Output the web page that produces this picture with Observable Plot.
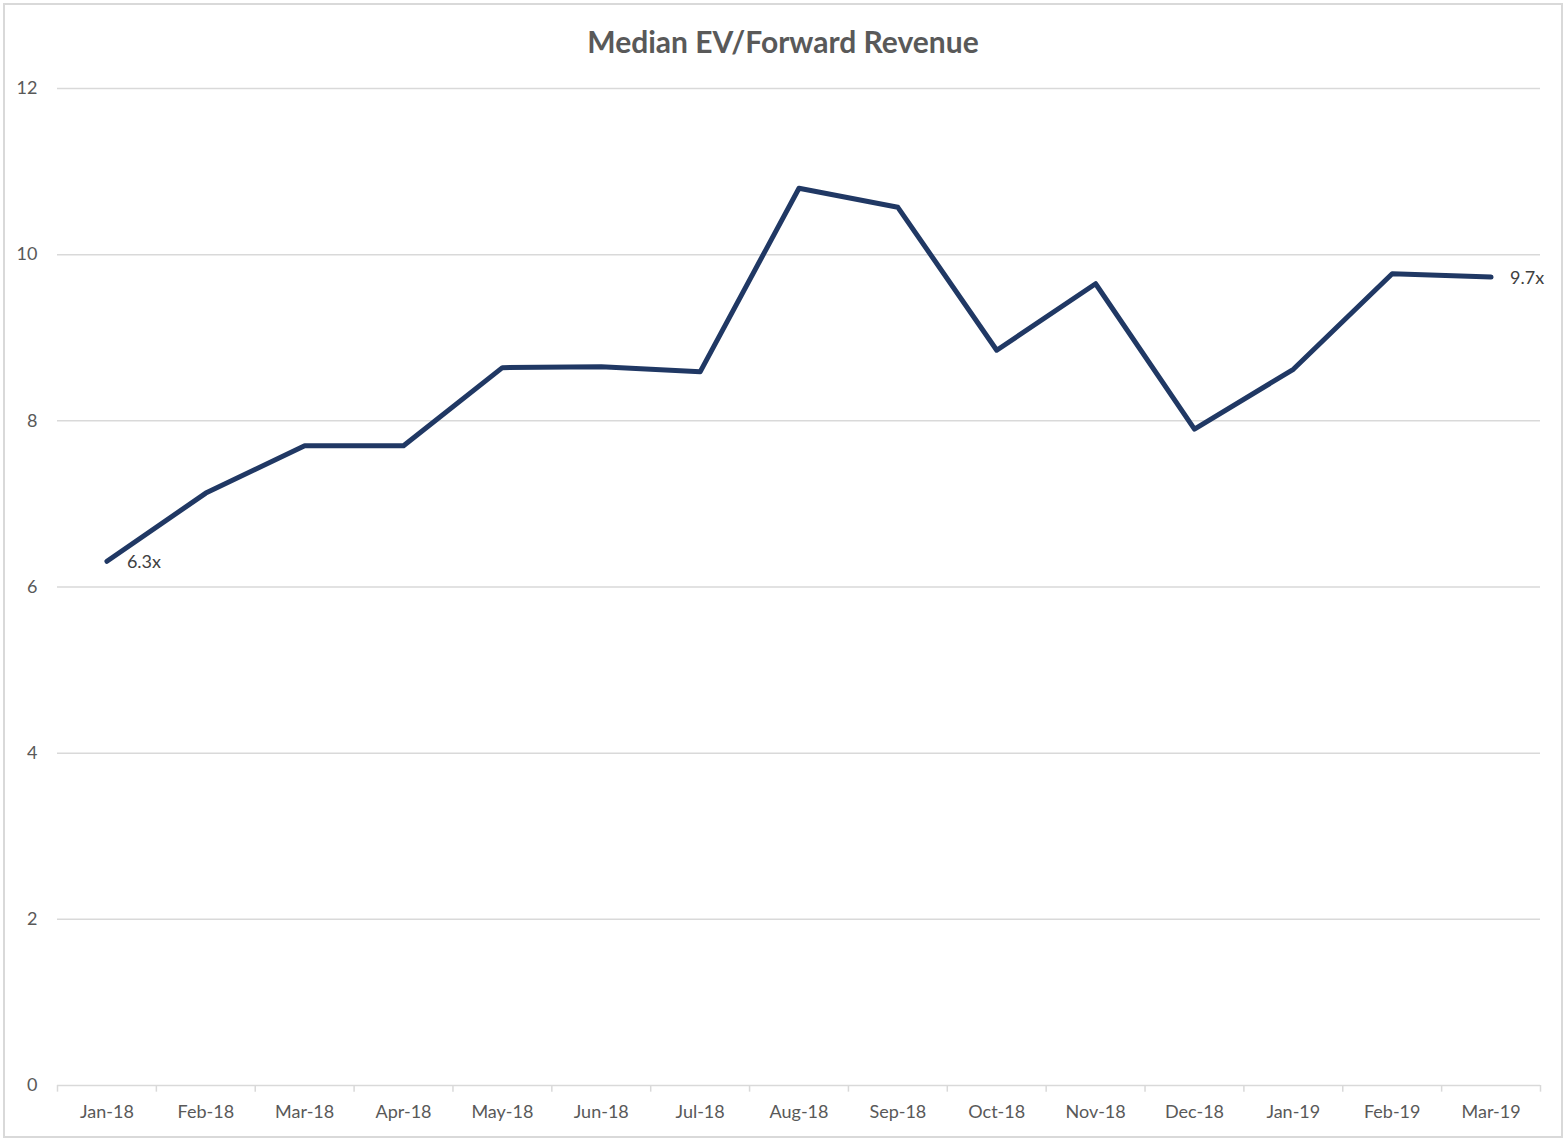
<!DOCTYPE html>
<html>
<head>
<meta charset="utf-8">
<script src="https://cdn.jsdelivr.net/npm/d3@7"></script>
<script src="https://cdn.jsdelivr.net/npm/@observablehq/plot@0.6"></script>
<style>
  html, body { margin: 0; padding: 0; background: #fff; }
  #frame { position: absolute; left: 3px; top: 3px; width: 1560px; height: 1135px; border: 2px solid #d9d9d9; box-sizing: border-box; }
  #wrap { position: absolute; left: 0; top: 0; width: 1566px; }
  #title { height: 70px; line-height: 82px; text-align: center; font-family: Lato, "Open Sans", sans-serif; font-weight: bold; font-size: 30px; color: #595959; }
  svg { display: block; }
</style>
</head>
<body>
<div id="frame"></div>
<div id="wrap">
  <div id="title">Median EV/Forward Revenue</div>
  <div id="chart"></div>
</div>
<script>
const months = ["Jan-18","Feb-18","Mar-18","Apr-18","May-18","Jun-18","Jul-18","Aug-18","Sep-18","Oct-18","Nov-18","Dec-18","Jan-19","Feb-19","Mar-19"];
const values = [6.31, 7.13, 7.70, 7.70, 8.64, 8.65, 8.59, 10.80, 10.57, 8.85, 9.65, 7.90, 8.62, 9.77, 9.73];
const yTicks = [0, 2, 4, 6, 8, 10, 12];
const endLabels = ["6.3x", "9.7x"];

const data = months.map((m, i) => ({month: m, value: values[i]}));
const first = data[0], last = data[data.length - 1];

const width = 1566, marginLeft = 57, marginRight = 26;
const step = (width - marginLeft - marginRight) / months.length;

const chart = Plot.plot({
  width: width,
  height: 1070,
  marginTop: 18,
  marginBottom: 55,
  marginLeft: marginLeft,
  marginRight: marginRight,
  style: {fontFamily: "Lato, 'Open Sans', sans-serif", fontSize: "18px", color: "#595959", background: "transparent"},
  x: {type: "point", domain: months, padding: 0.5, round: false, label: null},
  y: {domain: [0, 12], label: null},
  marks: [
    Plot.ruleY(yTicks, {stroke: "#d9d9d9", strokeWidth: 1.5}),
    Plot.ruleX(months, {x: d => d, dx: -step / 2, y1: 0, y2: -0.08, stroke: "#d9d9d9", strokeWidth: 1.5}),
    Plot.ruleX([months[months.length - 1]], {x: d => d, dx: step / 2, y1: 0, y2: -0.08, stroke: "#d9d9d9", strokeWidth: 1.5}),
    Plot.axisY({ticks: yTicks, tickSize: 0, tickPadding: 20, fill: "#595959", label: null}),
    Plot.axisX({tickSize: 0, tickPadding: 20, fill: "#595959", label: null}),
    Plot.line(data, {x: "month", y: "value", stroke: "#203864", strokeWidth: 5, strokeLinejoin: "round", strokeLinecap: "round"}),
    Plot.text([first], {x: "month", y: "value", text: () => endLabels[0], dx: 20, dy: 1, textAnchor: "start", fill: "#404040"}),
    Plot.text([last], {x: "month", y: "value", text: () => endLabels[1], dx: 19, dy: 1, textAnchor: "start", fill: "#404040"})
  ]
});
document.getElementById("chart").appendChild(chart);
</script>
</body>
</html>
